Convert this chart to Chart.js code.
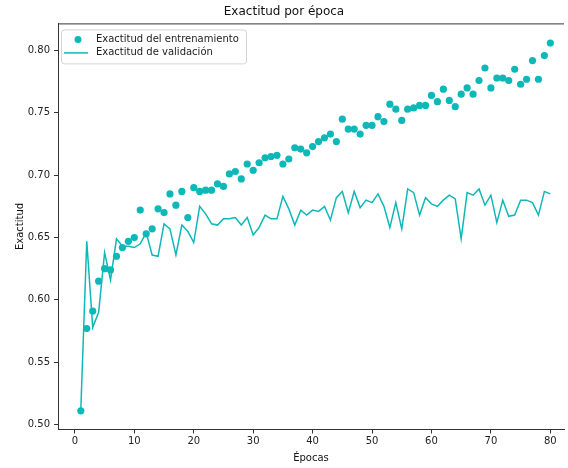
<!DOCTYPE html>
<html>
<head>
<meta charset="utf-8">
<script src="https://cdn.jsdelivr.net/npm/chart.js@4"></script>
<style>
  html, body { margin: 0; padding: 0; background: #fff; }
  #wrap { width: 568px; height: 468px; }
</style>
</head>
<body>
<div id="wrap"><canvas id="myChart" width="568" height="468"></canvas></div>
<script>
let trainAcc = [0.511, 0.577, 0.591, 0.615, 0.625, 0.624, 0.635, 0.642, 0.647, 0.650,
  0.672, 0.653, 0.657, 0.673, 0.670, 0.685, 0.676, 0.687, 0.666, 0.690,
  0.687, 0.688, 0.688, 0.693, 0.691, 0.701, 0.703, 0.697, 0.709, 0.704,
  0.710, 0.714, 0.715, 0.716, 0.709, 0.713, 0.722, 0.721, 0.718, 0.723,
  0.727, 0.730, 0.733, 0.727, 0.745, 0.737, 0.737, 0.733, 0.740, 0.740,
  0.747, 0.743, 0.757, 0.753, 0.744, 0.753, 0.754, 0.756, 0.756, 0.764,
  0.759, 0.769, 0.760, 0.755, 0.765, 0.770, 0.765, 0.776, 0.786, 0.770,
  0.778, 0.778, 0.776, 0.785, 0.773, 0.777, 0.792, 0.777, 0.796, 0.806];
let valAcc = [0.512, 0.647, 0.578, 0.590, 0.638, 0.616, 0.649, 0.643, 0.643, 0.642,
  0.645, 0.654, 0.636, 0.635, 0.661, 0.657, 0.636, 0.660, 0.655, 0.646,
  0.675, 0.669, 0.661, 0.660, 0.665, 0.665, 0.666, 0.660, 0.666, 0.652,
  0.658, 0.668, 0.665, 0.665, 0.683, 0.673, 0.660, 0.672, 0.668, 0.672,
  0.671, 0.675, 0.664, 0.682, 0.687, 0.670, 0.687, 0.674, 0.680, 0.678,
  0.685, 0.675, 0.658, 0.678, 0.657, 0.689, 0.686, 0.668, 0.682, 0.677,
  0.675, 0.680, 0.684, 0.681, 0.649, 0.686, 0.684, 0.689, 0.676, 0.684,
  0.662, 0.680, 0.667, 0.668, 0.680, 0.680, 0.678, 0.668, 0.687, 0.685];
let xTicks = [0, 10, 20, 30, 40, 50, 60, 70, 80];
let yTicks = [0.50, 0.55, 0.60, 0.65, 0.70, 0.75, 0.80];

let seriesNames = ['Exactitud del entrenamiento', 'Exactitud de validación'];
let teal = '#0fb8b8';
let font = 'DejaVu Sans';

let toPoints = (arr) => arr.map((v, i) => ({ x: i + 1, y: v }));

// matplotlib-like frame (top spine) and legend inside the axes
let frameAndLegend = {
  id: 'frameAndLegend',
  afterDraw(chart) {
    let c = chart.ctx;
    let a = chart.chartArea;
    c.save();
    c.strokeStyle = '#333';
    c.lineWidth = 1;
    c.beginPath();
    c.moveTo(a.left, a.top + 0.5);
    c.lineTo(a.right, a.top + 0.5);
    c.stroke();

    let bx = a.left + 3, by = a.top + 6, bw = 185, bh = 34;
    c.fillStyle = 'rgba(255,255,255,0.8)';
    c.strokeStyle = '#d4d4d4';
    c.beginPath();
    c.roundRect(bx + 0.5, by + 0.5, bw, bh, 3);
    c.fill();
    c.stroke();

    c.fillStyle = teal;
    c.beginPath();
    c.arc(bx + 17, by + 10, 3.5, 0, Math.PI * 2);
    c.fill();
    c.strokeStyle = teal;
    c.lineWidth = 1.5;
    c.beginPath();
    c.moveTo(bx + 3, by + 23.5);
    c.lineTo(bx + 27, by + 23.5);
    c.stroke();

    c.fillStyle = '#222';
    c.font = '10px "' + font + '"';
    c.textBaseline = 'middle';
    c.fillText(seriesNames[0], bx + 35, by + 10);
    c.fillText(seriesNames[1], bx + 35, by + 23.5);
    c.restore();
  }
};

let ctx = document.getElementById('myChart').getContext('2d');
let myChart = new Chart(ctx, {
  type: 'line',
  data: {
    datasets: [{
      type: 'scatter',
      label: seriesNames[0],
      data: toPoints(trainAcc),
      backgroundColor: teal,
      borderColor: teal,
      pointRadius: 3.6,
      pointBorderWidth: 0,
      showLine: false
    }, {
      label: seriesNames[1],
      data: toPoints(valAcc),
      borderColor: teal,
      borderWidth: 1.5,
      pointRadius: 0,
      fill: false,
      tension: 0
    }]
  },
  options: {
    responsive: false,
    animation: false,
    layout: { padding: { left: 0, right: 0, top: 0, bottom: 0 } },
    plugins: {
      legend: { display: false },
      tooltip: { enabled: false },
      title: {
        display: true,
        text: 'Exactitud por época',
        color: '#111',
        font: { family: font, size: 12, weight: 'normal' },
        padding: { top: 5, bottom: 4 }
      }
    },
    scales: {
      x: {
        type: 'linear',
        min: -2.84,
        max: 82.3,
        afterFit: (s) => { s.height = 38.5; },
        afterBuildTicks: (s) => { s.ticks = xTicks.map(v => ({ value: v })); },
        grid: { display: true, drawOnChartArea: false, drawTicks: true, tickLength: 4, color: '#333' },
        border: { display: true, color: '#333', width: 1 },
        ticks: { color: '#222', padding: 2, maxRotation: 0, font: { family: font, size: 10 } },
        title: {
          display: true,
          text: 'Épocas',
          color: '#111',
          font: { family: font, size: 10 },
          padding: { top: 0, bottom: 4 }
        }
      },
      y: {
        min: 0.496,
        max: 0.8218,
        afterFit: (s) => { s.width = 58; },
        afterBuildTicks: (s) => { s.ticks = yTicks.map(v => ({ value: v })); },
        grid: { display: true, drawOnChartArea: false, drawTicks: true, tickLength: 4, color: '#333' },
        border: { display: true, color: '#333', width: 1 },
        ticks: {
          color: '#222',
          padding: 4,
          font: { family: font, size: 10 },
          callback: (v) => v.toFixed(2)
        },
        title: {
          display: true,
          text: 'Exactitud',
          color: '#111',
          font: { family: font, size: 10 },
          padding: { top: 14, bottom: 0 }
        }
      }
    }
  },
  plugins: [frameAndLegend]
});
</script>
</body>
</html>
